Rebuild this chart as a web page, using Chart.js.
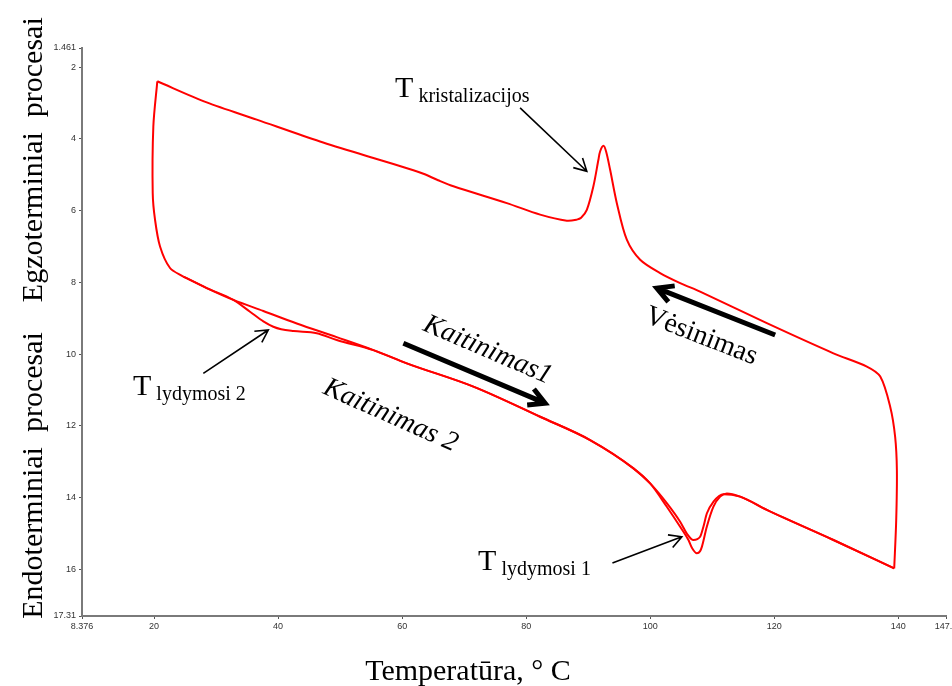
<!DOCTYPE html>
<html>
<head>
<meta charset="utf-8">
<script src="https://cdn.jsdelivr.net/npm/chart.js@4"></script>
<style>
  html, body { margin: 0; padding: 0; background: #fff; }
</style>
</head>
<body>
<canvas id="dscChart" width="952" height="686"></canvas>
<script>
// DSC kreivė: temperatūra (°C) ir signalas (ašis apversta)
const coolT = [139.35, 139.67, 139.78, 139.5, 138.7, 137.1, 134.94, 129.55, 118.81, 108.05, 104.83, 101.6, 98.38, 96.23, 94.62, 93.54, 92.89, 92.46, 91.92, 91.65, 90.84, 89.78, 88.86, 88.17, 86.56, 82.25, 76.88, 68.27, 65.8, 63.43, 61.81, 55.36, 46.76, 36.55, 28.49, 20.52];
const coolY = [15.98, 14.64, 13.24, 12.31, 11.47, 10.63, 10.35, 9.98, 9.14, 8.26, 8.02, 7.74, 7.37, 6.81, 5.79, 4.86, 4.35, 4.19, 4.35, 4.58, 5.32, 5.98, 6.20, 6.25, 6.28, 6.11, 5.79, 5.32, 5.15, 4.97, 4.87, 4.53, 4.07, 3.46, 2.98, 2.39];

const coolEndT = [20.52, 19.88, 19.78, 20.15, 20.96, 22.57, 24.71];
const coolEndY = [2.39, 3.65, 5.51, 6.25, 7.00, 7.60, 7.84];

const heat1T = [24.71, 28.49, 32.78, 37.62, 43.01, 49.45, 55.36, 60.75, 71.49, 82.25, 90.31, 97.3, 99.99, 102.68, 104.83, 106.17, 106.77, 107.53, 108.05, 108.33, 109.13, 110.2, 111.28, 112.36, 114.5, 118.81, 129.55, 139.35];
const heat1Y = [7.84, 8.16, 8.49, 8.80, 9.15, 9.53, 9.89, 10.26, 10.91, 11.75, 12.40, 13.19, 13.61, 14.26, 14.82, 15.19, 15.42, 15.56, 15.50, 15.38, 14.82, 14.26, 13.98, 13.89, 13.98, 14.35, 15.19, 15.98];

const heat2T = [24.71, 28.49, 32.78, 35.47, 37.62, 39.23, 40.5, 42.5, 46.23, 49.45, 55.36, 60.75, 71.49, 82.25, 90.31, 97.3, 99.99, 102.68, 104.83, 105.91, 106.97, 108.05, 108.58, 109.13, 110.2, 111.81, 114.5, 118.81, 129.55, 139.35];
const heat2Y = [7.84, 8.16, 8.49, 8.82, 9.09, 9.24, 9.31, 9.36, 9.42, 9.61, 9.89, 10.26, 10.91, 11.75, 12.40, 13.19, 13.61, 14.16, 14.68, 15.01, 15.19, 15.10, 14.82, 14.45, 14.12, 13.91, 13.98, 14.35, 15.19, 15.98];

const xTicks = [8.376, 20, 40, 60, 80, 100, 120, 140, 147.7];
const yTicks = [1.461, 2, 4, 6, 8, 10, 12, 14, 16, 17.31];

const serif = "'Liberation Serif', 'Times New Roman', serif";

function toPoints(xs, ys) {
    return xs.map((x, i) => ({ x: x, y: ys[i] }));
}

function curve(xs, ys, monotone) {
    return {
        data: toPoints(xs, ys),
        showLine: true,
        borderColor: '#ff0000',
        borderWidth: 2,
        pointRadius: 0,
        tension: 0.3,
        cubicInterpolationMode: monotone ? 'monotone' : 'default',
        fill: false
    };
}

function drawArrow(ctx, x1, y1, x2, y2, width, head) {
    const a = Math.atan2(y2 - y1, x2 - x1);
    ctx.save();
    ctx.strokeStyle = '#000';
    ctx.lineWidth = width;
    ctx.beginPath();
    ctx.moveTo(x1, y1);
    ctx.lineTo(x2, y2);
    ctx.moveTo(x2 - head * Math.cos(a - 0.5), y2 - head * Math.sin(a - 0.5));
    ctx.lineTo(x2, y2);
    ctx.lineTo(x2 - head * Math.cos(a + 0.5), y2 - head * Math.sin(a + 0.5));
    ctx.stroke();
    ctx.restore();
}

function tLabel(ctx, x, y, sub) {
    ctx.font = '30px ' + serif;
    ctx.fillText('T', x, y);
    const w = ctx.measureText('T').width;
    ctx.font = '20px ' + serif;
    ctx.fillText(sub, x + w + 5, y + 5);
}

function rotText(ctx, text, x, y, deg, font) {
    ctx.save();
    ctx.translate(x, y);
    ctx.rotate(deg * Math.PI / 180);
    ctx.font = font;
    ctx.fillText(text, 0, 0);
    ctx.restore();
}

// uzrasai ir rodykles
const notesPlugin = {
    id: 'notes',
    afterDraw(chart) {
        const ctx = chart.ctx;
        const sx = chart.scales.x, sy = chart.scales.y;
        const px = v => sx.getPixelForValue(v);
        const py = v => sy.getPixelForValue(v);

        ctx.save();
        ctx.fillStyle = '#000';
        ctx.textAlign = 'left';
        ctx.textBaseline = 'alphabetic';

        tLabel(ctx, px(58.86), py(2.82), 'kristalizacijos');
        tLabel(ctx, px(16.6), py(11.14), 'lydymosi 2');
        tLabel(ctx, px(72.25), py(16.03), 'lydymosi 1');

        drawArrow(ctx, px(79.02), py(3.13), px(89.78), py(4.90), 1.6, 14);
        drawArrow(ctx, px(27.94), py(10.54), px(38.42), py(9.33), 1.6, 14);
        drawArrow(ctx, px(93.91), py(15.83), px(105.1), py(15.10), 1.6, 14);

        drawArrow(ctx, px(60.2), py(9.70), px(83.05), py(11.37), 5, 18);
        drawArrow(ctx, px(120.15), py(9.47), px(101.07), py(8.16), 5, 18);

        rotText(ctx, 'Kaitinimas1', px(63.17), py(9.33), 23.2, 'italic 28px ' + serif);
        rotText(ctx, 'Kaitinimas 2', px(47.04), py(11.09), 24, 'italic 28px ' + serif);
        rotText(ctx, 'Vėsinimas', px(98.91), py(9.10), 21.3, '28px ' + serif);

        // asiu pavadinimai
        ctx.font = '30px ' + serif;
        ctx.textAlign = 'center';
        ctx.fillText('Temperatūra, ° C', 468, 680);

        ctx.translate(42, 318);
        ctx.rotate(-Math.PI / 2);
        ctx.fillText('Endoterminiai  procesai    Egzoterminiai  procesai', 0, 0);
        ctx.restore();
    }
};

const tickFont = { family: "'Liberation Sans', Arial, sans-serif", size: 9 };

new Chart(document.getElementById('dscChart'), {
    type: 'scatter',
    data: {
        datasets: [
            curve(coolT, coolY, false),
            curve(coolEndT, coolEndY, false),
            curve(heat1T, heat1Y, true),
            curve(heat2T, heat2Y, true)
        ]
    },
    options: {
        responsive: false,
        animation: false,
        layout: { padding: { left: 0, top: 48, right: 6, bottom: 0 } },
        plugins: {
            legend: { display: false },
            tooltip: { enabled: false }
        },
        scales: {
            x: {
                type: 'linear',
                min: 8.376,
                max: 147.7,
                afterBuildTicks: scale => { scale.ticks = xTicks.map(v => ({ value: v })); },
                afterFit: scale => { scale.height = 70; scale.paddingLeft = 0; scale.paddingRight = 0; },
                ticks: {
                    autoSkip: false,
                    maxRotation: 0,
                    padding: 2,
                    color: '#333',
                    font: tickFont,
                    callback: v => String(v)
                },
                grid: { drawOnChartArea: false, tickLength: 3, color: '#555' },
                border: { color: '#7a7a7a', width: 2 }
            },
            y: {
                type: 'linear',
                reverse: true,
                min: 1.461,
                max: 17.31,
                afterBuildTicks: scale => { scale.ticks = yTicks.map(v => ({ value: v })); },
                afterFit: scale => { scale.width = 82; scale.paddingTop = 0; scale.paddingBottom = 0; },
                ticks: {
                    autoSkip: false,
                    padding: 3,
                    color: '#333',
                    font: tickFont,
                    callback: v => String(v)
                },
                grid: { drawOnChartArea: false, tickLength: 3, color: '#555' },
                border: { color: '#7a7a7a', width: 2 }
            }
        }
    },
    plugins: [notesPlugin]
});
</script>
</body>
</html>
